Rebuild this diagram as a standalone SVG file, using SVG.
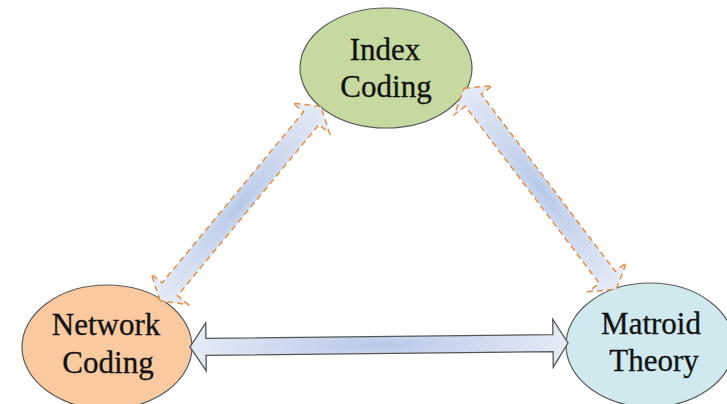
<svg xmlns="http://www.w3.org/2000/svg" width="727" height="404" viewBox="0 0 727 404">
<defs>
<radialGradient id="g" cx="0.5" cy="0.5" r="0.5">
<stop offset="0" stop-color="#b6c8e8"/>
<stop offset="1" stop-color="#e4eaf6"/>
</radialGradient>
</defs>
<style>
.node ellipse{stroke:#5a5a5a;stroke-width:1.2}
.node text{font-family:"Liberation Serif","Times New Roman",serif;font-size:31px;fill:#111;stroke:#111;stroke-width:0.3;text-anchor:middle}
.dash{fill:url(#g);stroke:#e39045;stroke-width:1.5;stroke-dasharray:6 4}
.solid{fill:url(#g);stroke:#555;stroke-width:1.3}
</style>
<rect width="727" height="404" fill="#fff"/>
<g id="index-coding" class="node">
<ellipse cx="386" cy="68" rx="86" ry="60" fill="#c6d9a0"/>
<text x="385" y="60">Index</text>
<text x="386" y="97">Coding</text>
</g>
<g id="network-coding" class="node">
<ellipse cx="107" cy="347" rx="85" ry="62" fill="#f9c9a0"/>
<text x="106" y="335">Network</text>
<text x="108" y="373">Coding</text>
</g>
<g id="matroid-theory" class="node">
<ellipse cx="650" cy="345" rx="84" ry="62" fill="#cfe9ef"/>
<text x="651" y="334">Matroid</text>
<text x="654" y="371">Theory</text>
</g>
<g id="connectors">
<polygon class="dash" transform="translate(240.5,203.75) rotate(-50.4)" points="-126,0 -111,-24 -111,-10 111,-10 111,-24 126,0 111,24 111,10 -111,10 -111,24"/>
<polygon class="dash" transform="translate(540.25,188.75) rotate(52.9)" points="-126,0 -111,-24 -111,-10 111,-10 111,-24 126,0 111,24 111,10 -111,10 -111,24"/>
<polygon class="solid" transform="translate(379,345) rotate(-0.6)" points="-189,0 -173,-24 -173,-8.5 174,-8.5 174,-24 189,0 174,24 174,8.5 -173,8.5 -173,24"/>
</g>
</svg>
